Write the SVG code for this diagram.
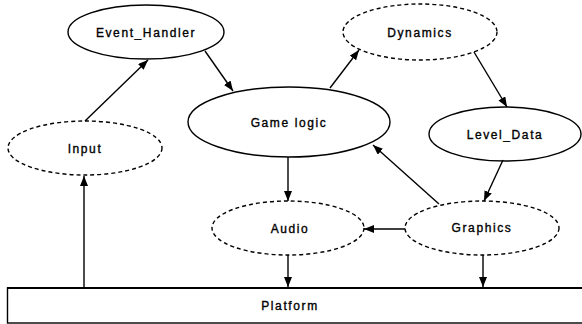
<svg xmlns="http://www.w3.org/2000/svg" width="582" height="324" viewBox="0 0 582 324">
<style>
.n{fill:#fff;stroke:#000;stroke-width:1.4}
.d{stroke-dasharray:4 3}
.t{font-family:"Liberation Sans",Arial,sans-serif;font-size:12px;letter-spacing:1.6px;text-anchor:middle;fill:#000;stroke:#000;stroke-width:0.35}
.c line{stroke:#000;stroke-width:1.4;marker-end:url(#a)}
</style>
<defs>
<marker id="a" viewBox="0 0 10 8" refX="10" refY="4" markerWidth="10" markerHeight="8" markerUnits="userSpaceOnUse" orient="auto">
<path d="M0,0 L10,4 L0,8 Z" fill="#000"/>
</marker>
</defs>
<g id="platform">
<rect class="n" x="7.5" y="288" width="576" height="35" stroke-width="1.2"/>
<line x1="7" y1="288" x2="582" y2="288" stroke="#000" stroke-width="2"/>
<text class="t" x="290" y="310">Platform</text>
</g>
<g id="event_handler">
<ellipse class="n" cx="146" cy="32" rx="78" ry="27"/>
<text class="t" x="146" y="37">Event_Handler</text>
</g>
<g id="input">
<ellipse class="n d" cx="85" cy="148" rx="77" ry="27"/>
<text class="t" x="85" y="153">Input</text>
</g>
<g id="game_logic">
<ellipse class="n" cx="289" cy="122" rx="101" ry="35"/>
<text class="t" x="289" y="127">Game logic</text>
</g>
<g id="dynamics">
<ellipse class="n d" cx="420" cy="32" rx="77" ry="28"/>
<text class="t" x="420" y="37">Dynamics</text>
</g>
<g id="level_data">
<ellipse class="n" cx="505" cy="134" rx="76" ry="27"/>
<text class="t" x="505" y="139">Level_Data</text>
</g>
<g id="audio">
<ellipse class="n d" cx="288" cy="228" rx="76" ry="27"/>
<text class="t" x="290" y="233">Audio</text>
</g>
<g id="graphics">
<ellipse class="n d" cx="482" cy="228" rx="77" ry="27"/>
<text class="t" x="482" y="232">Graphics</text>
</g>
<g id="connectors" class="c">
<line x1="85" y1="121" x2="148" y2="60"/>
<line x1="205" y1="51" x2="233" y2="91"/>
<line x1="330" y1="88" x2="359" y2="50"/>
<line x1="474" y1="52" x2="507" y2="107"/>
<line x1="503" y1="160" x2="484" y2="201"/>
<line x1="439" y1="204" x2="373" y2="145"/>
<line x1="288" y1="157" x2="288" y2="201"/>
<line x1="405" y1="229" x2="364" y2="229"/>
<line x1="288" y1="255" x2="288" y2="287"/>
<line x1="483" y1="255" x2="483" y2="287"/>
<line x1="84" y1="288" x2="84" y2="176"/>
</g>
</svg>
